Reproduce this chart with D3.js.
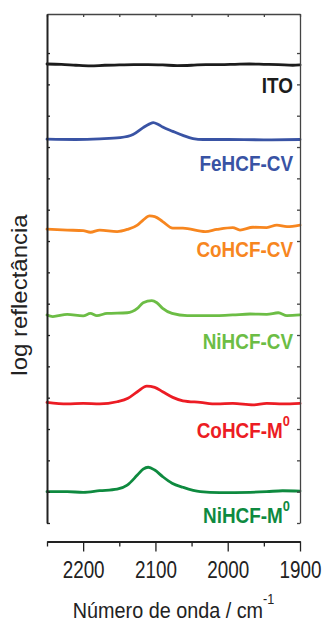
<!DOCTYPE html>
<html>
<head>
<meta charset="utf-8">
<script src="https://cdn.jsdelivr.net/npm/d3@7"></script>
<style>
  html, body { margin: 0; padding: 0; background: #fff; }
  svg { display: block; }
  text { font-family: "Liberation Sans", Arial, sans-serif; }
</style>
</head>
<body>
<svg id="chart" width="324" height="622"></svg>
<script>
// Spectra: [wavenumber (cm-1), stacked log reflectance (offset units)]
const ito = [[2250,14.65],[2230,14.64],[2210,14.61],[2190,14.59],[2170,14.61],[2150,14.62],[2130,14.63],[2110,14.63],[2090,14.62],[2070,14.60],[2050,14.61],[2030,14.63],[2010,14.63],[1990,14.64],[1970,14.65],[1950,14.64],[1930,14.63],[1910,14.61],[1900,14.62]];
const feHcfCv = [[2250,12.25],[2210,12.24],[2177,12.26],[2149,12.30],[2131,12.40],[2117,12.62],[2108,12.74],[2103,12.78],[2096,12.72],[2090,12.64],[2076,12.50],[2062,12.37],[2048,12.27],[2034,12.24],[2000,12.24],[1950,12.23],[1900,12.24]];
const coHcfCv = [[2250,9.38],[2222,9.35],[2200,9.33],[2190,9.28],[2177,9.35],[2153,9.30],[2139,9.37],[2125,9.51],[2117,9.67],[2108,9.80],[2101,9.78],[2090,9.62],[2076,9.41],[2062,9.41],[2031,9.30],[2015,9.37],[1993,9.43],[1983,9.35],[1965,9.44],[1946,9.43],[1932,9.51],[1918,9.46],[1900,9.51]];
const niHcfCv = [[2250,6.64],[2242,6.59],[2222,6.66],[2200,6.61],[2190,6.69],[2181,6.62],[2167,6.69],[2139,6.71],[2125,6.85],[2117,7.03],[2105,7.10],[2098,7.03],[2090,6.85],[2077,6.69],[2056,6.62],[2015,6.62],[1993,6.64],[1969,6.67],[1946,6.66],[1930,6.71],[1918,6.62],[1900,6.64]];
const coHcfM0 = [[2250,3.85],[2222,3.80],[2200,3.82],[2177,3.80],[2153,3.87],[2138,3.98],[2125,4.19],[2112,4.37],[2101,4.33],[2090,4.19],[2076,4.01],[2062,3.90],[2038,3.85],[2015,3.80],[1993,3.82],[1965,3.77],[1946,3.82],[1924,3.80],[1900,3.82]];
const niHcfM0 = [[2250,1.00],[2222,1.00],[2200,0.98],[2177,1.03],[2153,1.08],[2139,1.21],[2125,1.53],[2117,1.72],[2110,1.78],[2101,1.69],[2090,1.48],[2077,1.27],[2062,1.14],[2038,1.00],[2011,0.97],[1969,0.98],[1946,1.00],[1924,1.03],[1900,1.02]];

const seriesNames = ["ITO", "FeHCF-CV", "CoHCF-CV", "NiHCF-CV", "CoHCF-M", "NiHCF-M"];
const seriesSup = ["", "", "", "", "0", "0"];
const seriesColors = ["#1c1c1c", "#3953a4", "#f7861f", "#6cbd45", "#ec1c24", "#0e8a3f"];
const seriesData = [ito, feHcfCv, coHcfCv, niHcfCv, coHcfM0, niHcfM0];

const xMajorTicks = [2200, 2100, 2000, 1900];
const xMinorTicks = [2250, 2150, 2050, 1950];
const yTicks = d3.range(0, 16);

// Layout
const plotLeft = 47, plotRight = 300, plotTop = 14, plotBottom = 541.5;
const labelRight = 293;
const labelBaselines = [92.7, 170.7, 257.3, 349.3, 437.5, 523.3];

const svg = d3.select("#chart");

const x = d3.scaleLinear().domain([2250, 1900]).range([plotLeft, plotRight]);
const y = d3.scaleLinear().domain([0, 16.246]).range([523, plotTop]);

// Spectra
const line = d3.line()
  .x(d => x(d[0]))
  .y(d => y(d[1]))
  .curve(d3.curveMonotoneX);

svg.append("g").selectAll("path")
  .data(seriesData)
  .join("path")
  .attr("d", line)
  .attr("fill", "none")
  .attr("stroke", (d, i) => seriesColors[i])
  .attr("stroke-width", 2.8)
  .attr("stroke-linejoin", "round")
  .attr("stroke-linecap", "round");

// Frame axes
function styleAxis(g, color, width) {
  g.select(".domain").attr("stroke", color).attr("stroke-width", width);
  g.selectAll(".tick line").attr("stroke", color).attr("stroke-width", 1.3);
}

const topAxis = svg.append("g")
  .attr("transform", `translate(0,${plotTop})`)
  .call(d3.axisTop(x).tickValues(xMajorTicks.concat(xMinorTicks)).tickSizeInner(-3).tickSizeOuter(0).tickFormat(""));
styleAxis(topAxis, "#444", 1.3);

const rightAxis = svg.append("g")
  .attr("transform", `translate(${plotRight},0)`)
  .call(d3.axisRight(y).tickValues(yTicks).tickSizeInner(-3).tickSizeOuter(0).tickFormat(""));
styleAxis(rightAxis, "#444", 1.3);

const leftAxis = svg.append("g")
  .attr("transform", `translate(${plotLeft},0)`)
  .call(d3.axisLeft(y).tickValues(yTicks).tickSizeInner(-3).tickSizeOuter(0).tickFormat(""));
styleAxis(leftAxis, "#222", 2);

const minorAxis = svg.append("g")
  .attr("transform", `translate(0,${plotBottom})`)
  .call(d3.axisBottom(x).tickValues(xMinorTicks).tickSizeInner(5).tickSizeOuter(0).tickFormat(""));
styleAxis(minorAxis, "#222", 2);

const bottomAxis = svg.append("g")
  .attr("transform", `translate(0,${plotBottom})`)
  .call(d3.axisBottom(x).tickValues(xMajorTicks).tickSizeInner(10).tickSizeOuter(0).tickFormat(d3.format("d")));
styleAxis(bottomAxis, "#222", 2);
bottomAxis.selectAll(".tick text")
  .attr("y", 36.5)
  .attr("dy", null)
  .attr("fill", "#222")
  .attr("font-size", 23)
  .attr("font-family", "Liberation Sans, Arial, sans-serif")
  .attr("transform", "scale(0.82,1)");

// Series labels
const labels = svg.append("g").selectAll("text")
  .data(seriesNames)
  .join("text")
  .attr("transform", (d, i) => `translate(${labelRight - (seriesSup[i] ? 3 : 0)},${labelBaselines[i]}) scale(0.86,1)`)
  .attr("text-anchor", "end")
  .attr("font-size", 22)
  .attr("font-weight", "bold")
  .attr("fill", (d, i) => seriesColors[i]);
labels.append("tspan").text(d => d);
labels.append("tspan")
  .text((d, i) => seriesSup[i])
  .attr("font-size", 15)
  .attr("dy", (d, i) => seriesSup[i] ? -12 : 0);

// Axis titles
const xTitle = svg.append("text")
  .attr("transform", `translate(${(plotLeft + plotRight) / 2},617.5) scale(0.9,1)`)
  .attr("text-anchor", "middle")
  .attr("font-size", 22)
  .attr("fill", "#222");
xTitle.append("tspan").text("Número de onda / cm");
xTitle.append("tspan").text("-1").attr("font-size", 14).attr("dy", -14);

svg.append("text")
  .attr("transform", "translate(27,295) scale(0.9,1) rotate(-90)")
  .attr("text-anchor", "middle")
  .attr("font-size", 24)
  .attr("fill", "#222")
  .text("log reflectância");
</script>
</body>
</html>
